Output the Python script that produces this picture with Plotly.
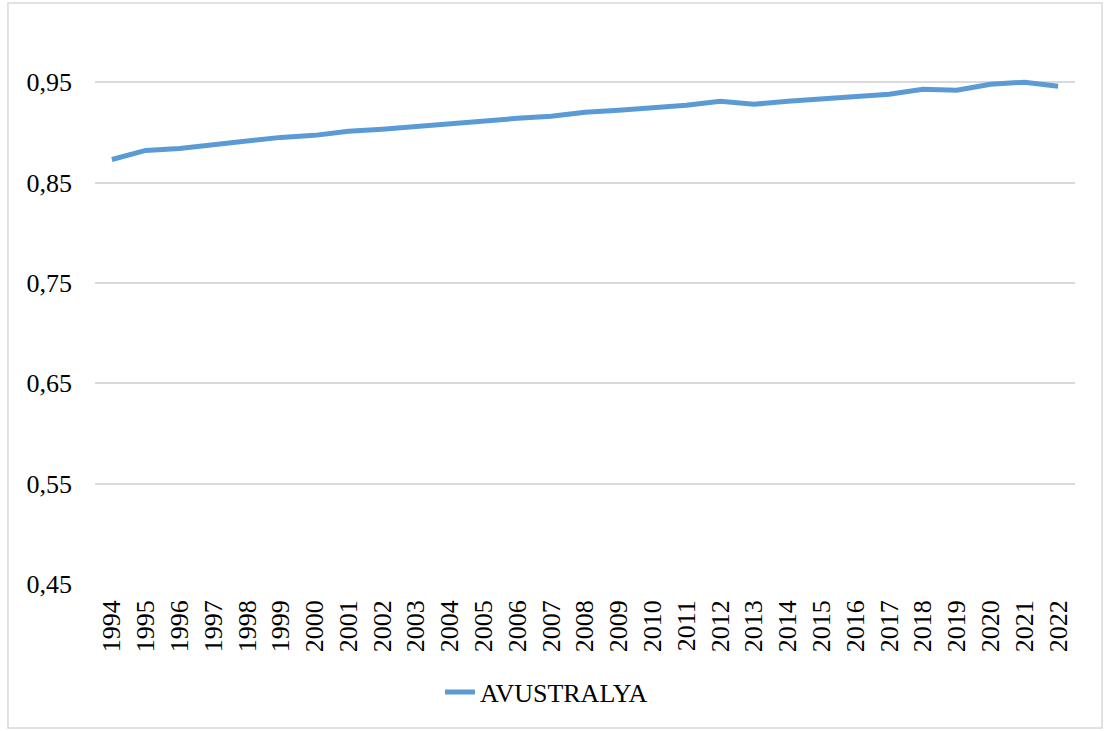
import plotly.graph_objects as go

years = [str(y) for y in range(1994, 2023)]
avustralya = [0.873, 0.882, 0.884, 0.888, 0.892, 0.895, 0.897, 0.901, 0.903, 0.906,
              0.908, 0.911, 0.914, 0.916, 0.920, 0.922, 0.924, 0.927, 0.931, 0.928,
              0.931, 0.933, 0.936, 0.938, 0.943, 0.942, 0.948, 0.950, 0.946]
y_ticks = [0.45, 0.55, 0.65, 0.75, 0.85, 0.95]
y_tick_labels = ["0,45", "0,55", "0,65", "0,75", "0,85", "0,95"]

FONT = "Liberation Serif"

fig = go.Figure()
fig.add_trace(go.Scatter(
    x=years, y=avustralya, mode="lines", name="AVUSTRALYA",
    line=dict(color="#5B9BD5", width=5),
))

fig.update_layout(
    template="none",
    width=1105, height=731,
    margin=dict(l=95, r=30, t=32, b=147, autoexpand=False),
    paper_bgcolor="white", plot_bgcolor="white",
    font=dict(family=FONT, size=26, color="black"),
    showlegend=True,
    legend=dict(orientation="h", x=0.352, xanchor="left", y=-0.196, yanchor="middle",
                font=dict(family=FONT, size=26, color="black"), bgcolor="rgba(0,0,0,0)"),
    xaxis=dict(type="category", range=[-0.5, 28.5], tickangle=-90, showgrid=False,
               showline=False, automargin=False, zeroline=False,
               ticks="", ticklabelstandoff=10, tickfont=dict(family=FONT, size=26, color="black")),
    yaxis=dict(range=[0.45, 1.0], tickvals=y_ticks, ticktext=y_tick_labels,
               showgrid=True, gridcolor="#d9d9d9", gridwidth=1.5, zeroline=False,
               showline=False, automargin=False, ticks="", ticklabelstandoff=22,
               tickfont=dict(family=FONT, size=26, color="black")),
    shapes=[dict(type="rect", xref="paper", yref="paper",
                 x0=-0.0888, x1=1.0276, y0=-0.2609, y1=1.0525,
                 line=dict(color="#d9d9d9", width=1.5), fillcolor="rgba(0,0,0,0)")],
)

fig.write_html("out.html", config={"displayModeBar": False},
               post_script="document.body.style.margin='0px';")
